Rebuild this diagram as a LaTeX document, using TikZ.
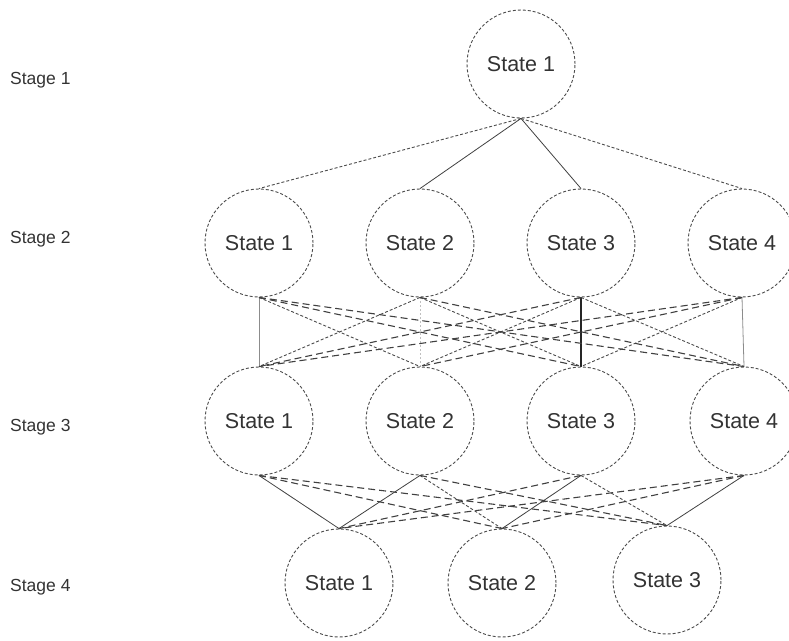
\documentclass[tikz,border=0pt]{standalone}
\usepackage{fontspec}
\setmainfont{Liberation Sans}
\begin{document}
\begin{tikzpicture}[x=1pt, y=-1pt,
  statenode/.style={circle, draw=black!70, line width=0.9pt,
    dash pattern=on 3pt off 2pt, minimum size=108pt, inner sep=0pt,
    font=\fontsize{21.5}{25}\selectfont, text=black!80},
  stagelabel/.style={anchor=west, inner sep=0pt,
    font=\fontsize{17.5}{21}\selectfont, text=black!80},
  solidedge/.style={draw=black!75, line width=0.8pt},
  lightedge/.style={draw=black!45, line width=0.8pt},
  faintedge/.style={draw=black!25, line width=0.8pt, dash pattern=on 2pt off 2pt},
  darkedge/.style={draw=black!85, line width=1.2pt},
  fineedge/.style={draw=black!70, line width=0.9pt, dash pattern=on 3pt off 2pt},
  longedge/.style={draw=black!75, line width=1.1pt, dash pattern=on 7pt off 4pt}]
\useasboundingbox (0,0) rectangle (789,640);

% stage captions
\node[stagelabel] (s1) at (10,80) {Stage 1};
\node[stagelabel] (s2) at (10,239) {Stage 2};
\node[stagelabel] (s3) at (10,427) {Stage 3};
\node[stagelabel] (s4) at (10,587) {Stage 4};

% states
\node[statenode] (a1) at (521,64) {State 1};

\node[statenode] (b1) at (259,243) {State 1};
\node[statenode] (b2) at (420,243) {State 2};
\node[statenode] (b3) at (581,243) {State 3};
\node[statenode] (b4) at (742,243) {State 4};

\node[statenode] (c1) at (259,421) {State 1};
\node[statenode] (c2) at (420,421) {State 2};
\node[statenode] (c3) at (581,421) {State 3};
\node[statenode] (c4) at (744,421) {State 4};

\node[statenode] (d1) at (339,583) {State 1};
\node[statenode] (d2) at (502,583) {State 2};
\node[statenode] (d3) at (667,580) {State 3};

% stage 1 -> stage 2
\draw[fineedge]  (a1.south) -- (b1.north);
\draw[solidedge] (a1.south) -- (b2.north);
\draw[solidedge] (a1.south) -- (b3.north);
\draw[fineedge]  (a1.south) -- (b4.north);

% stage 2 -> stage 3
\draw[lightedge] (b1.south) -- (c1.north);
\draw[faintedge] (b2.south) -- (c2.north);
\draw[darkedge]  (b3.south) -- (c3.north);
\draw[lightedge] (b4.south) -- (c4.north);
\draw[fineedge] (b1.south) -- (c2.north);
\draw[fineedge] (b2.south) -- (c1.north);
\draw[fineedge] (b2.south) -- (c3.north);
\draw[fineedge] (b3.south) -- (c2.north);
\draw[fineedge] (b3.south) -- (c4.north);
\draw[fineedge] (b4.south) -- (c3.north);
\draw[longedge] (b1.south) -- (c3.north);
\draw[longedge] (b1.south) -- (c4.north);
\draw[longedge] (b2.south) -- (c4.north);
\draw[longedge] (b3.south) -- (c1.north);
\draw[longedge] (b4.south) -- (c1.north);
\draw[longedge] (b4.south) -- (c2.north);

% stage 3 -> stage 4
\draw[solidedge] (c1.south) -- (d1.north);
\draw[solidedge] (c2.south) -- (d1.north);
\draw[fineedge]  (c2.south) -- (d2.north);
\draw[solidedge] (c3.south) -- (d2.north);
\draw[fineedge]  (c3.south) -- (d3.north);
\draw[solidedge] (c4.south) -- (d3.north);
\draw[longedge] (c1.south) -- (d2.north);
\draw[longedge] (c1.south) -- (d3.north);
\draw[longedge] (c2.south) -- (d3.north);
\draw[longedge] (c3.south) -- (d1.north);
\draw[longedge] (c4.south) -- (d1.north);
\draw[longedge] (c4.south) -- (d2.north);
\end{tikzpicture}
\end{document}
